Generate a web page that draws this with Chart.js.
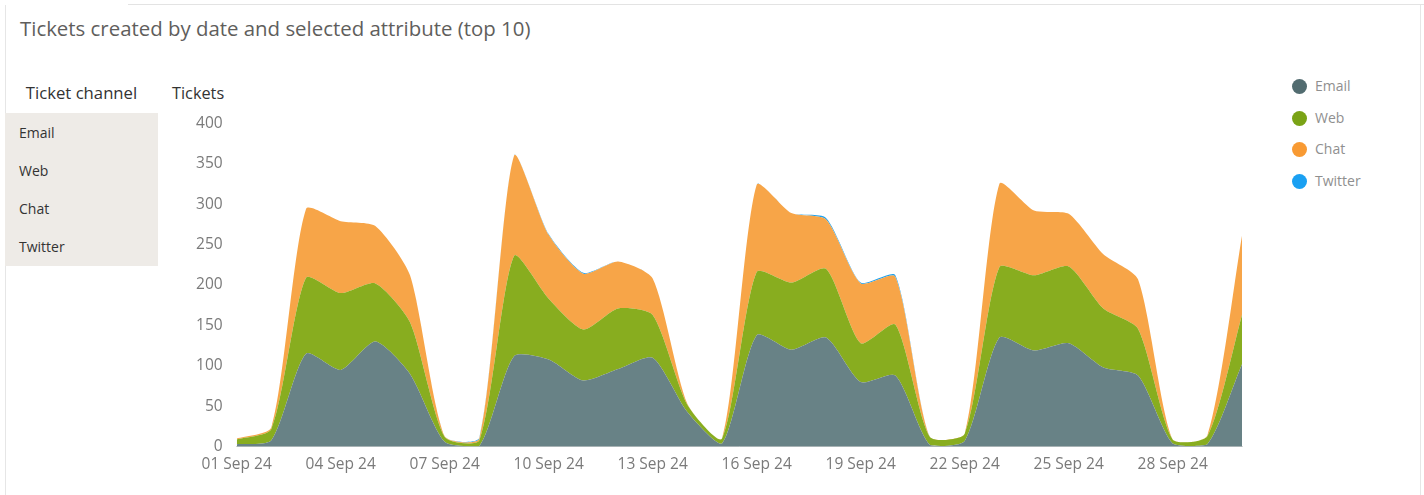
<!DOCTYPE html>
<html>
<head>
<meta charset="utf-8">
<script src="https://cdn.jsdelivr.net/npm/chart.js@4/dist/chart.umd.min.js"></script>
<style>
  html, body { margin: 0; padding: 0; background: #fff; }
  body { width: 1424px; height: 495px; position: relative; overflow: hidden;
         font-family: 'Segoe UI', 'Open Sans', sans-serif; }
  .card { position: absolute; left: 5px; top: 5px; width: 1414px; height: 500px;
          border-left: 1px solid #e6e6e6; border-right: 1px solid #e6e6e6; }
  .tabline { position: absolute; left: 128px; top: 4px; width: 1296px; height: 1px; background: #e3e3e3; }
  .title { position: absolute; left: 20px; top: 14px; font-size: 20.4px; color: #605e5c; white-space: nowrap; }
  .slicer-head { position: absolute; left: 5px; width: 153px; top: 81px; text-align: center;
                 font-size: 16.7px; color: #333; }
  .slicer { position: absolute; left: 5px; top: 113px; width: 153px; height: 153px; background: #eeebe7; }
  .slicer div { position: absolute; left: 14px; font-size: 14px; color: #333; }
  .ytitle { position: absolute; left: 172px; top: 82px; font-size: 16.3px; color: #333; }
  #wrap { position: absolute; left: 160px; top: 100px; width: 1100px; height: 395px; }
  #legend { position: absolute; left: 1292px; top: 76px; }
  #legend .item { position: absolute; left: 0; height: 20px; white-space: nowrap; }
  #legend .dot { position: absolute; left: 0; top: 3px; width: 15px; height: 15px; border-radius: 50%; }
  #legend .lbl { position: absolute; left: 23px; top: 0; font-size: 14px; color: #8f8f8f; }
</style>
</head>
<body>
<div class="card"></div>
<div class="tabline"></div>
<div class="title">Tickets created by date and selected attribute (top 10)</div>
<div class="slicer-head">Ticket channel</div>
<div class="slicer" id="slicer"></div>
<div class="ytitle">Tickets</div>
<div id="wrap"><canvas id="chart"></canvas></div>
<div id="legend"></div>
<script>
// dates
const labels = [];
for (let d = 1; d <= 30; d++) labels.push((d < 10 ? '0' + d : '' + d) + ' Sep 24');

const channels = ['Email', 'Web', 'Chat', 'Twitter'];
const fillColors = ['#688286', '#88ad1f', '#f7a548', '#1ea1ee'];
const legendColors = ['#526c70', '#7aa316', '#f89a33', '#1aa0f2'];

const email   = [3, 8, 115, 95, 130, 90, 6, 1, 112, 108, 82, 96, 110, 43, 4, 138, 120, 135, 80, 88, 2, 7, 135, 119, 128, 98, 88, 4, 3, 102];
const web     = [6, 14, 94, 95, 72, 64, 6, 7, 124, 75, 63, 75, 53, 9, 6, 78, 83, 85, 48, 63, 10, 9, 87, 93, 95, 73, 58, 5, 10, 61];
const chat    = [1, 2, 85, 89, 71, 58, 1, 2, 124, 79, 69, 58, 45, 1, 0, 108, 86, 61, 74, 59, 0, 0, 103, 80, 65, 67, 61, 0, 1, 98];
const twitter = [0, 0, 0, 0, 0, 0, 0, 1, 0, 1, 1, 0, 0, 0, 0, 0, 0, 2, 1, 2, 0, 0, 0, 0, 0, 0, 0, 0, 0, 0];

const yTicks = [0, 50, 100, 150, 200, 250, 300, 350, 400];

// slicer items
const slicer = document.getElementById('slicer');
channels.forEach((c, i) => {
  const el = document.createElement('div');
  el.textContent = c;
  el.style.top = (10 + i * 38) + 'px';
  slicer.appendChild(el);
});

const series = [email, web, chat, twitter];
const datasets = series.map((vals, i) => ({
  label: channels[i],
  data: vals,
  backgroundColor: fillColors[i],
  borderWidth: 0,
  pointRadius: 0,
  fill: i === 0 ? 'origin' : '-1',
  tension: 0.22
}));

const ctx = document.getElementById('chart');
const myChart = new Chart(ctx, {
  type: 'line',
  data: { labels: labels, datasets: datasets },
  options: {
    responsive: true,
    maintainAspectRatio: false,
    animation: false,
    layout: { padding: { left: 0, top: 20.7, right: 18, bottom: 0 } },
    plugins: { legend: { display: false }, tooltip: { enabled: false } },
    scales: {
      x: {
        grid: { display: false, drawTicks: false },
        border: { display: true, color: '#d6d6d6', width: 1 },
        afterFit: s => { s.height = 48.3; },
        ticks: {
          autoSkip: false, maxRotation: 0, padding: 9,
          color: '#7a7a7a', font: { family: "'Segoe UI', 'Open Sans', sans-serif", size: 15.5 },
          callback: function (v, i) { return i % 3 === 0 ? this.getLabelForValue(v) : null; }
        }
      },
      y: {
        stacked: true, min: 0, max: 400,
        grid: { display: false, drawTicks: false },
        border: { display: false },
        afterFit: s => { s.width = 76.7; },
        afterBuildTicks: s => { s.ticks = yTicks.map(v => ({ value: v })); },
        ticks: {
          padding: 14,
          color: '#7a7a7a', font: { family: "'Segoe UI', 'Open Sans', sans-serif", size: 15.5 }
        }
      }
    }
  }
});
ctx['_chart'] = myChart;

// legend from chart datasets
const legend = document.getElementById('legend');
myChart.data.datasets.forEach((ds, i) => {
  const item = document.createElement('div');
  item.className = 'item';
  item.style.top = (i * 31.7) + 'px';
  item.innerHTML = '<span class="dot" style="background:' + legendColors[i] + '"></span><span class="lbl">' + ds.label + '</span>';
  legend.appendChild(item);
});
</script>
</body>
</html>
